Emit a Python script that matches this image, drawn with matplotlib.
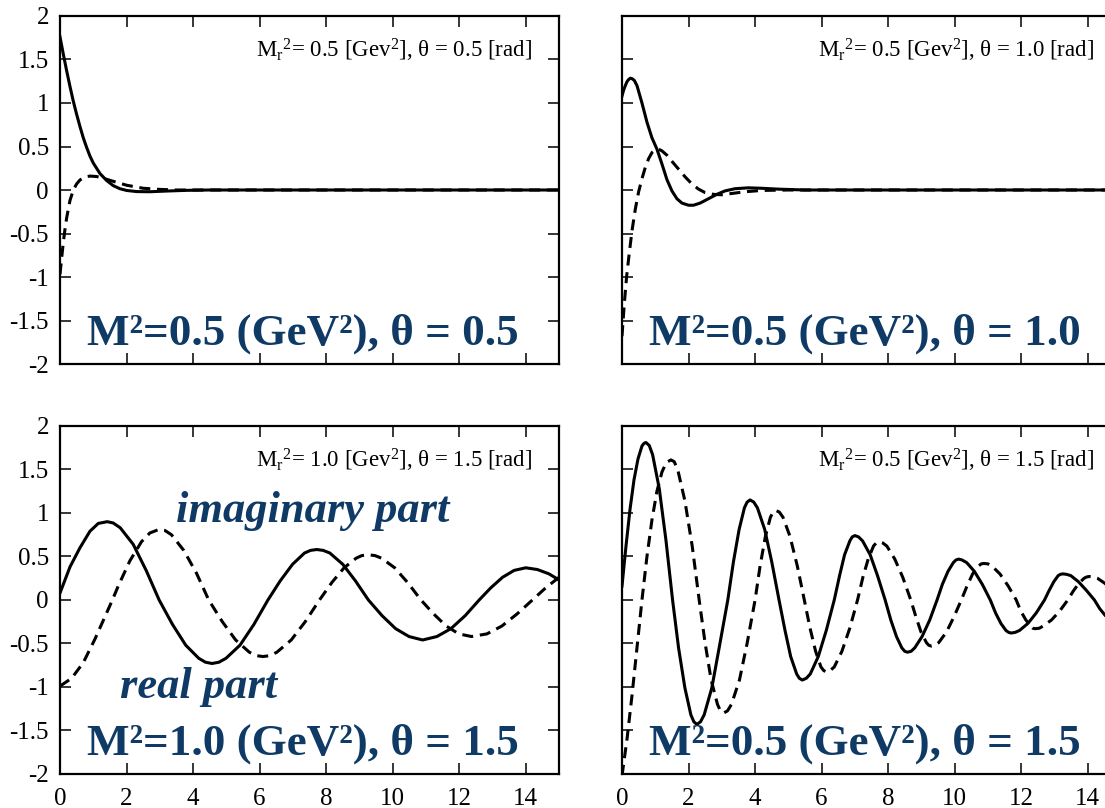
import matplotlib
matplotlib.use("Agg")
import matplotlib.pyplot as plt
from matplotlib.ticker import FixedLocator, FixedFormatter

plt.rcParams["font.family"] = ["Liberation Serif", "DejaVu Serif"]
plt.rcParams["mathtext.fontset"] = "custom"
plt.rcParams["mathtext.rm"] = "Liberation Serif"
plt.rcParams["mathtext.it"] = "Liberation Serif:italic"
plt.rcParams["axes.unicode_minus"] = False

NAVY = "#0e3a65"

X_TICKS = [0, 2, 4, 6, 8, 10, 12, 14]
Y_TICKS = [-2, -1.5, -1, -0.5, 0, 0.5, 1, 1.5, 2]

# panel (0,0): M^2 = 0.5, theta = 0.5
tl_real_x = [0, 0.1, 0.2, 0.3, 0.4, 0.5, 0.6, 0.7, 0.8, 0.9, 1.0, 1.2, 1.4, 1.6,
             1.8, 2.0, 2.3, 2.7, 3.2, 3.8, 4.5, 15]
tl_real_y = [1.76, 1.56, 1.37, 1.19, 1.02, 0.87, 0.73, 0.60, 0.49, 0.39, 0.31, 0.19,
             0.11, 0.05, 0.015, -0.005, -0.018, -0.02, -0.012, -0.004, 0, 0]
tl_imag_x = [0, 0.05, 0.1, 0.15, 0.2, 0.3, 0.4, 0.5, 0.6, 0.75, 0.9, 1.1, 1.3, 1.6,
             2.0, 2.5, 3.0, 3.5, 15]
tl_imag_y = [-0.97, -0.78, -0.6, -0.45, -0.32, -0.12, 0.0, 0.07, 0.115, 0.15, 0.16,
             0.155, 0.135, 0.1, 0.055, 0.02, 0.007, 0, 0]

# panel (0,1): M^2 = 0.5, theta = 1.0
tr_real_x = [0, 0.05, 0.1, 0.15, 0.2, 0.25, 0.3, 0.37, 0.45, 0.6, 0.75, 0.9, 1.05, 1.2,
             1.35, 1.5, 1.65, 1.8, 2.0, 2.15, 2.35, 2.6, 2.85, 3.1, 3.4, 3.8, 4.2, 4.7,
             5.5, 15]
tr_real_y = [1.08, 1.15, 1.2, 1.245, 1.27, 1.285, 1.28, 1.26, 1.2, 1.0, 0.78, 0.6, 0.47,
             0.3, 0.12, -0.01, -0.1, -0.15, -0.175, -0.175, -0.15, -0.1, -0.05, -0.01,
             0.015, 0.025, 0.02, 0.01, 0, 0]
tr_imag_x = [0, 0.07, 0.14, 0.22, 0.3, 0.4, 0.5, 0.6, 0.7, 0.8, 0.9, 1.0, 1.1, 1.2,
             1.35, 1.5, 1.7, 1.9, 2.1, 2.3, 2.5, 2.75, 3.0, 3.3, 3.7, 4.2, 5.0, 15]
tr_imag_y = [-1.68, -1.3, -0.99, -0.72, -0.47, -0.22, -0.02, 0.13, 0.26, 0.36, 0.43,
             0.46, 0.47, 0.45, 0.4, 0.33, 0.24, 0.15, 0.07, 0.01, -0.03, -0.05, -0.055,
             -0.04, -0.02, -0.005, 0, 0]

# panel (1,0): M^2 = 1.0, theta = 1.5
bl_real_x = [0, 0.3, 0.6, 0.9, 1.15, 1.42, 1.6, 1.81, 2.2, 2.59, 2.98, 3.38, 3.78,
             4.17, 4.37, 4.57, 4.78, 4.99, 5.41, 5.83, 6.25, 6.62, 6.99, 7.35, 7.53,
             7.72, 7.91, 8.11, 8.5, 8.88, 9.27, 9.68, 10.09, 10.49, 10.9, 11.33, 11.75,
             12.18, 12.6, 12.95, 13.3, 13.65, 14.0, 14.35, 14.7, 15.0]
bl_real_y = [0.08, 0.38, 0.6, 0.79, 0.88, 0.9, 0.885, 0.83, 0.64, 0.34, 0, -0.28, -0.52,
             -0.67, -0.715, -0.73, -0.715, -0.67, -0.52, -0.28, 0, 0.22, 0.41, 0.54,
             0.57, 0.58, 0.57, 0.54, 0.41, 0.22, 0, -0.18, -0.33, -0.42, -0.46, -0.42,
             -0.33, -0.18, 0, 0.14, 0.26, 0.34, 0.37, 0.35, 0.3, 0.23]
bl_imag_x = [0, 0.35, 0.7, 1.05, 1.4, 1.575, 1.75, 2.1, 2.45, 2.7, 2.97, 3.15, 3.35,
             3.72, 4.1, 4.47, 4.88, 5.28, 5.69, 5.9, 6.1, 6.31, 6.52, 6.95, 7.37, 7.8,
             8.17, 8.54, 8.9, 9.07, 9.27, 9.47, 9.67, 10.06, 10.45, 10.85, 11.23, 11.61,
             11.99, 12.37, 12.83, 13.28, 13.74, 14.2, 14.6, 15.0]
bl_imag_y = [-0.99, -0.9, -0.72, -0.45, -0.15, 0, 0.16, 0.45, 0.67, 0.77, 0.81, 0.80,
             0.75, 0.57, 0.31, 0, -0.25, -0.46, -0.6, -0.64, -0.65, -0.64, -0.6, -0.46,
             -0.25, 0, 0.2, 0.37, 0.48, 0.51, 0.52, 0.51, 0.48, 0.37, 0.2, 0, -0.16,
             -0.3, -0.39, -0.42, -0.39, -0.3, -0.16, 0, 0.14, 0.26]

# panel (1,1): M^2 = 0.5, theta = 1.5
br_real_x = [0, 0.12, 0.24, 0.36, 0.48, 0.6, 0.66, 0.72, 0.82, 0.92, 1.12, 1.32, 1.52,
             1.70, 1.89, 2.07, 2.16, 2.25, 2.36, 2.47, 2.70, 2.92, 3.18, 3.35, 3.52,
             3.68, 3.76, 3.85, 3.96, 4.07, 4.29, 4.50, 4.72, 4.90, 5.07, 5.25, 5.33,
             5.42, 5.54, 5.66, 5.90, 6.14, 6.38, 6.54, 6.69, 6.85, 6.92, 7.0, 7.11,
             7.23, 7.46, 7.68, 7.91, 8.08, 8.25, 8.41, 8.5, 8.58, 8.69, 8.80, 9.02,
             9.25, 9.47, 9.63, 9.80, 9.96, 10.04, 10.12, 10.22, 10.36, 10.59, 10.83,
             11.07, 11.23, 11.39, 11.54, 11.62, 11.7, 11.82, 11.95, 12.2, 12.45, 12.7,
             12.84, 12.98, 13.11, 13.18, 13.25, 13.36, 13.49, 13.72, 13.96, 14.2, 14.36,
             14.53, 14.69, 14.85, 15.0]
br_real_y = [0.16, 0.62, 1.04, 1.38, 1.62, 1.77, 1.80, 1.81, 1.775, 1.67, 1.28, 0.69, 0,
             -0.55, -1.01, -1.32, -1.40, -1.43, -1.40, -1.32, -1.01, -0.55, 0, 0.44,
             0.81, 1.06, 1.125, 1.15, 1.125, 1.06, 0.81, 0.44, 0, -0.35, -0.65, -0.85,
             -0.90, -0.92, -0.90, -0.85, -0.65, -0.35, 0, 0.28, 0.52, 0.68, 0.725, 0.74,
             0.725, 0.68, 0.52, 0.28, 0, -0.23, -0.42, -0.55, -0.59, -0.6, -0.59, -0.55,
             -0.42, -0.23, 0, 0.18, 0.33, 0.43, 0.46, 0.47, 0.46, 0.43, 0.33, 0.18, 0,
             -0.15, -0.27, -0.35, -0.372, -0.38, -0.372, -0.35, -0.27, -0.15, 0, 0.11,
             0.21, 0.28, 0.295, 0.30, 0.295, 0.28, 0.21, 0.11, 0, -0.10, -0.18, -0.23,
             -0.25, -0.24]
br_imag_x = [0, 0.15, 0.3, 0.45, 0.6, 0.75, 0.9, 1.05, 1.2, 1.33, 1.47, 1.57, 1.68,
             1.89, 2.11, 2.32, 2.50, 2.68, 2.87, 2.96, 3.05, 3.17, 3.29, 3.53, 3.76, 4.0,
             4.15, 4.31, 4.46, 4.54, 4.62, 4.73, 4.84, 5.05, 5.27, 5.48, 5.65, 5.82,
             5.98, 6.06, 6.15, 6.26, 6.38, 6.61, 6.85, 7.08, 7.24, 7.40, 7.56, 7.64,
             7.72, 7.84, 7.96, 8.20, 8.44, 8.68, 8.84, 8.99, 9.15, 9.22, 9.3, 9.41, 9.52,
             9.75, 9.97, 10.2, 10.37, 10.54, 10.71, 10.8, 10.88, 11.0, 11.12, 11.36,
             11.61, 11.85, 11.99, 12.14, 12.28, 12.35, 12.42, 12.54, 12.66, 12.91, 13.15,
             13.4, 13.56, 13.73, 13.89, 13.97, 14.05, 14.17, 14.29, 14.52, 14.76, 15.0]
br_imag_y = [-2.02, -1.6, -1.1, -0.55, 0, 0.5, 0.92, 1.25, 1.47, 1.58, 1.61, 1.59, 1.49,
             1.14, 0.62, 0, -0.50, -0.92, -1.20, -1.275, -1.30, -1.275, -1.20, -0.92,
             -0.50, 0, 0.39, 0.73, 0.95, 1.01, 1.03, 1.01, 0.95, 0.73, 0.39, 0, -0.32,
             -0.59, -0.77, -0.81, -0.83, -0.81, -0.77, -0.59, -0.32, 0, 0.26, 0.47, 0.62,
             0.655, 0.67, 0.655, 0.62, 0.47, 0.26, 0, -0.2, -0.37, -0.49, -0.52, -0.53,
             -0.52, -0.49, -0.37, -0.2, 0, 0.16, 0.3, 0.39, 0.415, 0.42, 0.415, 0.39,
             0.3, 0.16, 0, -0.13, -0.23, -0.3, -0.325, -0.33, -0.325, -0.3, -0.23,
             -0.13, 0, 0.10, 0.19, 0.25, 0.265, 0.27, 0.265, 0.25, 0.19, 0.10, 0.0]

panels = [
    # (axes rect, real, imag, small label, big label, x labels?, y labels?)
    ([0.0543, 0.5495, 0.4516, 0.4307], (tl_real_x, tl_real_y), (tl_imag_x, tl_imag_y),
     r"M$_\mathrm{r}$$^\mathrm{2}$= 0.5 [Gev$^\mathrm{2}$], θ = 0.5 [rad]",
     "M²=0.5 (GeV²), θ = 0.5", False, True),
    ([0.5629, 0.5495, 0.4516, 0.4307], (tr_real_x, tr_real_y), (tr_imag_x, tr_imag_y),
     r"M$_\mathrm{r}$$^\mathrm{2}$= 0.5 [Gev$^\mathrm{2}$], θ = 1.0 [rad]",
     "M²=0.5 (GeV²), θ = 1.0", False, False),
    ([0.0543, 0.0421, 0.4516, 0.4307], (bl_real_x, bl_real_y), (bl_imag_x, bl_imag_y),
     r"M$_\mathrm{r}$$^\mathrm{2}$= 1.0 [Gev$^\mathrm{2}$], θ = 1.5 [rad]",
     "M²=1.0 (GeV²), θ = 1.5", True, True),
    ([0.5629, 0.0421, 0.4516, 0.4307], (br_real_x, br_real_y), (br_imag_x, br_imag_y),
     r"M$_\mathrm{r}$$^\mathrm{2}$= 0.5 [Gev$^\mathrm{2}$], θ = 1.5 [rad]",
     "M²=0.5 (GeV²), θ = 1.5", True, False),
]

fig = plt.figure(figsize=(11.05, 8.08), dpi=100)
axes = []
for rect, real, imag, small, big, xlab, ylab in panels:
    ax = fig.add_axes(rect)
    axes.append(ax)
    ax.plot(real[0], real[1], color="black", lw=2.2, solid_joinstyle="round")
    ax.plot(imag[0], imag[1], color="black", lw=2.2, dashes=(3.6, 2.2),
            dash_joinstyle="round")
    ax.set_xlim(0, 15)
    ax.set_ylim(-2, 2)

    ax.xaxis.set_major_locator(FixedLocator(X_TICKS))
    ax.yaxis.set_major_locator(FixedLocator(Y_TICKS))
    ax.xaxis.set_major_formatter(FixedFormatter(["%g" % v for v in X_TICKS]))
    ax.yaxis.set_major_formatter(FixedFormatter(["%g" % v for v in Y_TICKS]))
    ax.tick_params(direction="in", length=8, width=1.1, top=True, right=True,
                   labelsize=18, pad=8)
    ax.tick_params(axis="x", pad=10)
    if not xlab:
        ax.tick_params(labelbottom=False)
    if not ylab:
        ax.tick_params(labelleft=False)
    for s in ax.spines.values():
        s.set_linewidth(1.6)

    ax.text(14.2, 1.6, small, ha="right", va="center", fontsize=16.5)
    ax.text(0.8, -1.78, big, ha="left", va="baseline", fontsize=32.5,
            fontweight="bold", color=NAVY)

axes[2].text(3.5, 0.9, "imaginary part", ha="left", va="baseline", fontsize=32,
             fontweight="bold", fontstyle="italic", color=NAVY)
axes[2].text(1.8, -1.13, "real part", ha="left", va="baseline", fontsize=32,
             fontweight="bold", fontstyle="italic", color=NAVY)

fig.savefig("out.png", dpi=100)
